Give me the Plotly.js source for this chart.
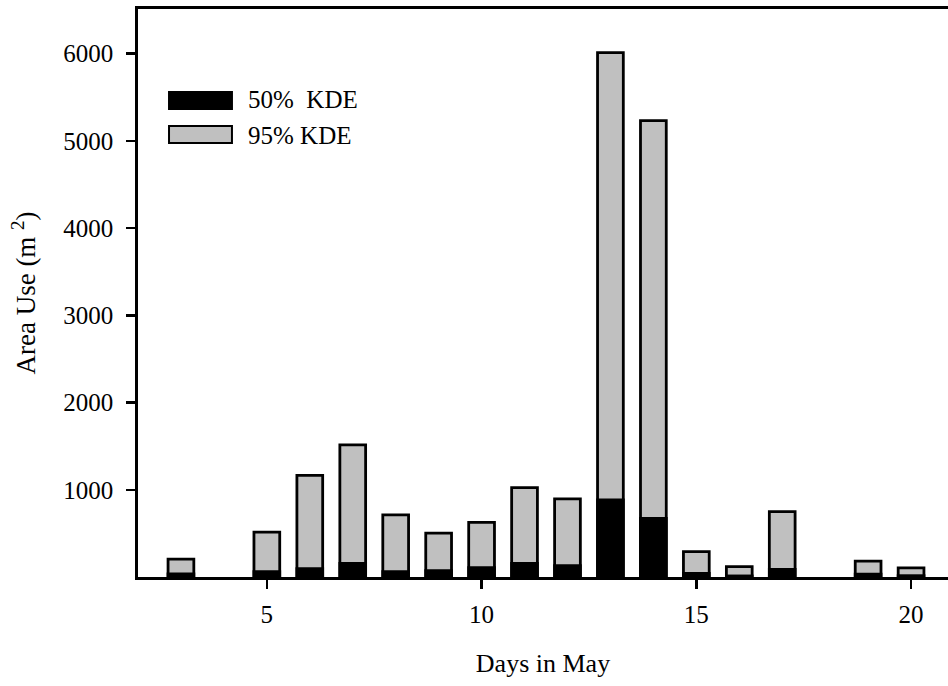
<!DOCTYPE html>
<html>
<head>
<meta charset="utf-8">
<script src="https://cdn.plot.ly/plotly-3.0.1.min.js"></script>
<style>html,body{margin:0;padding:0;background:#fff;}#chart{width:948px;height:686px;}</style>
</head>
<body>
<div id="chart"></div>
<script>
const days = [3, 5, 6, 7, 8, 9, 10, 11, 12, 13, 14, 15, 16, 17, 19, 20];
const kde95 = [205, 515, 1165, 1515, 712, 502, 625, 1025, 895, 6010, 5230, 290, 118, 750, 182, 105];
const kde50 = [35, 60, 95, 157, 60, 72, 107, 157, 130, 883, 673, 42, 12, 88, 34, 15];
const xTicks = [5, 10, 15, 20];
const yTicks = [1000, 2000, 3000, 4000, 5000, 6000];
const legendNames = ['50%  KDE', '95% KDE'];
const legendColors = ['#000000', '#c0c0c0'];

const font = "'Liberation Serif', 'Times New Roman', serif";

const traces = [
  {
    type: 'bar', name: legendNames[1], x: days, y: kde95, width: 0.6,
    marker: {color: legendColors[1], line: {color: '#000', width: 2.8}},
    showlegend: false
  },
  {
    type: 'bar', name: legendNames[0], x: days, y: kde50, width: 0.6,
    marker: {color: legendColors[0], line: {color: '#000', width: 2.8}},
    showlegend: false
  }
];

// custom legend (large swatches like the original)
const legRows = [{y0: 0.824, y1: 0.854, ty: 0.840}, {y0: 0.764, y1: 0.794, ty: 0.778}];
const shapes = legRows.map((r, i) => ({
  type: 'rect', xref: 'paper', yref: 'paper',
  x0: 0.0383, x1: 0.116, y0: r.y0, y1: r.y1,
  fillcolor: legendColors[i], line: {color: '#000', width: 2}
}));
const annotations = legRows.map((r, i) => ({
  xref: 'paper', yref: 'paper', x: 0.1333, y: r.ty,
  xanchor: 'left', yanchor: 'middle', showarrow: false,
  text: legendNames[i].replace(/ /g, '&nbsp;'),
  font: {family: font, size: 25, color: '#000'}
}));

const layout = {
  width: 948, height: 686,
  margin: {l: 138, r: 0, t: 9, b: 109},
  paper_bgcolor: '#fff', plot_bgcolor: '#fff',
  barmode: 'overlay',
  showlegend: false,
  shapes: shapes,
  annotations: annotations,
  font: {family: font, size: 25, color: '#000'},
  xaxis: {
    range: [2, 20.86],
    tickvals: xTicks, ticktext: xTicks.map(String),
    ticks: 'outside', ticklen: 9, tickwidth: 2.5, tickcolor: '#000',
    showline: true, linewidth: 2.8, linecolor: '#000', mirror: true,
    showgrid: false, zeroline: false,
    tickfont: {family: font, size: 25, color: '#000'},
    ticklabelstandoff: 4,
    title: {text: 'Days in May', font: {family: font, size: 26, color: '#000'}, standoff: 27}
  },
  yaxis: {
    range: [0, 6510],
    tickvals: yTicks, ticktext: yTicks.map(String),
    ticks: 'outside', ticklen: 9, tickwidth: 2.5, tickcolor: '#000',
    showline: true, linewidth: 2.8, linecolor: '#000', mirror: false,
    showgrid: false, zeroline: false,
    tickfont: {family: font, size: 25, color: '#000'},
    ticklabelstandoff: 8,
    title: {text: 'Area Use (m&nbsp;<sup>2</sup>)', font: {family: font, size: 27, color: '#000'}, standoff: 20}
  }
};

Plotly.newPlot('chart', traces, layout, {displayModeBar: false, staticPlot: true});
</script>
</body>
</html>
